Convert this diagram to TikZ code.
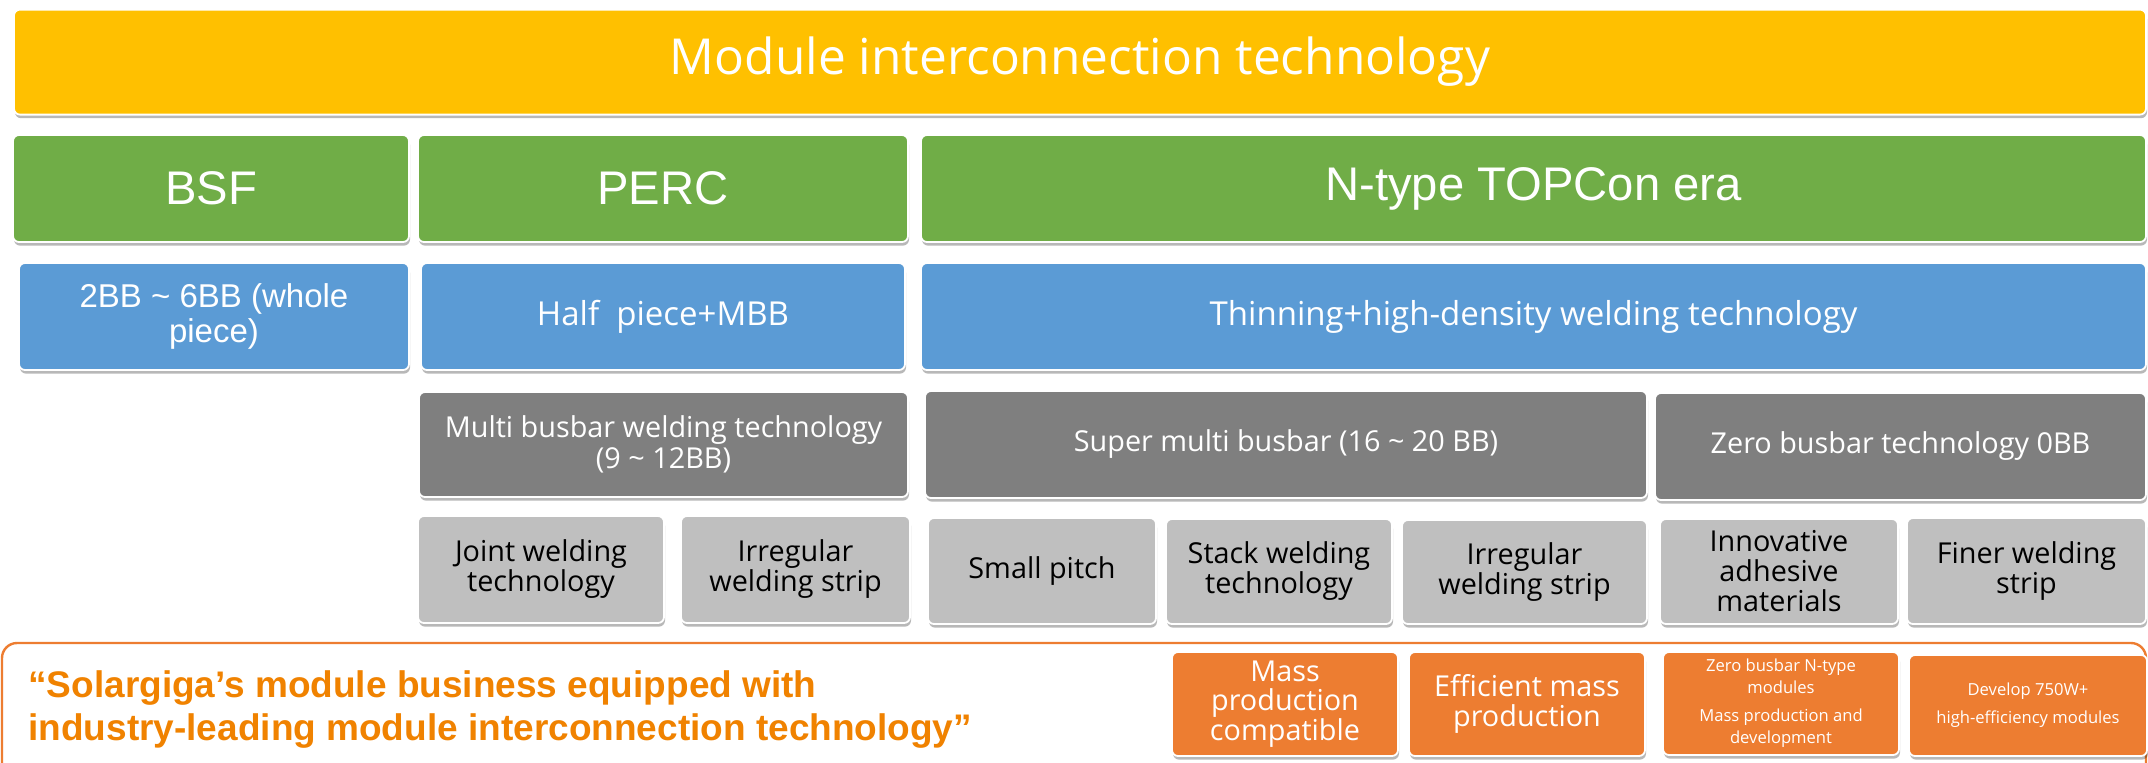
\documentclass[tikz,border=0pt]{standalone}
\usepackage{fontspec}
\setmainfont{Open Sans}
\newfontfamily\arialfont{Liberation Sans}
\usetikzlibrary{shadows}

\definecolor{hdyellow}{HTML}{FFC000}
\definecolor{eragreen}{HTML}{70AD47}
\definecolor{techblue}{HTML}{5B9BD5}
\definecolor{bardark}{HTML}{7F7F7F}
\definecolor{barlight}{HTML}{BFBFBF}
\definecolor{resorange}{HTML}{ED7D31}
\definecolor{quoteorange}{RGB}{240,130,0}

\tikzset{
  tile/.style={rounded corners=3pt, draw=white, line width=0.9pt, inner sep=0pt,
    align=center,
    drop shadow={shadow xshift=0.5pt, shadow yshift=-1.8pt, opacity=0.28, fill=black}},
  headbox/.style={tile, fill=hdyellow, text=white, font=\fontsize{24.8}{30}\selectfont},
  erabox/.style={tile, fill=eragreen, text=white, font=\arialfont\fontsize{23.6}{28}\selectfont},
  techbox/.style={tile, fill=techblue, text=white, font=\fontsize{16.5}{17.5}\selectfont},
  techboxarial/.style={tile, fill=techblue, text=white, font=\arialfont\fontsize{16.5}{17.5}\selectfont},
  busbox/.style={tile, fill=bardark, text=white, font=\fontsize{14.4}{15.5}\selectfont},
  methodbox/.style={tile, fill=barlight, text=black, font=\fontsize{14.4}{15}\selectfont},
  resultbox/.style={tile, fill=resorange, text=white, font=\fontsize{14.4}{14.6}\selectfont},
  resultsmall/.style={tile, fill=resorange, text=white, font=\fontsize{8.3}{11}\selectfont},
  frame/.style={draw=resorange, line width=1.2pt, rounded corners=7.5pt, fill=white},
  quote/.style={text=quoteorange, align=left, inner sep=0pt,
    font=\arialfont\bfseries\fontsize{18.5}{21.5}\selectfont},
}

% one rounded tile spanning the corners (x1,y1) and (x2,y2); one unit is 0.5pt
\newcommand\cellbox[7]{%
  \pgfmathsetmacro\cellcx{(#3+#5)/2}%
  \pgfmathsetmacro\cellcy{(#4+#6)/2}%
  \pgfmathsetmacro\cellw{(#5-#3)*0.5}%
  \pgfmathsetmacro\cellh{(#6-#4)*0.5}%
  \node[#2, minimum width=\cellw pt, minimum height=\cellh pt] (#1) at (\cellcx,\cellcy) {#7};}

\begin{document}
\begin{tikzpicture}[x=0.5pt, y=-0.5pt]
\useasboundingbox (0,0) rectangle (2148,762);
\clip (0,0) rectangle (2148,762);

% heading
\cellbox{head}{headbox, yshift=-1.3pt}{14}{7}{2146}{112}{Module interconnection technology}

% cell generations
\cellbox{bsf}{erabox}{13}{135}{409}{242}{BSF}
\cellbox{perc}{erabox}{418}{135}{908}{242}{PERC}
\cellbox{topcon}{erabox}{921}{135}{2146}{242}{N-type TOPCon era}

% interconnection approach of each generation
\cellbox{whole}{techboxarial}{19}{263}{409}{370}{2BB \textasciitilde{} 6BB (whole\\piece)}
\cellbox{half}{techbox}{421}{263}{905}{370}{Half~~piece+MBB}
\cellbox{thin}{techbox}{921}{263}{2146}{370}{Thinning+high-density welding technology}

% busbar families
\cellbox{mbb}{busbox}{419}{392}{908}{497}{Multi busbar welding technology\\(9 \textasciitilde{} 12BB)}
\cellbox{smbb}{busbox}{925}{391}{1647}{498}{Super multi busbar (16 \textasciitilde{} 20 BB)}
\cellbox{zbb}{busbox}{1655}{393}{2146}{500}{Zero busbar technology 0BB}

% welding methods
\cellbox{joint}{methodbox}{418}{516}{664}{623}{Joint welding\\technology}
\cellbox{irrA}{methodbox}{681}{516}{910}{623}{Irregular\\welding strip}
\cellbox{pitch}{methodbox}{928}{518}{1156}{624}{Small pitch}
\cellbox{stack}{methodbox}{1166}{519}{1392}{624}{Stack welding\\technology}
\cellbox{irrB}{methodbox}{1402}{520}{1647}{624}{Irregular\\welding strip}
\cellbox{adhesive}{methodbox}{1660}{519}{1898}{624}{Innovative\\adhesive\\materials}
\cellbox{finer}{methodbox}{1907}{518}{2146}{624}{Finer welding\\strip}

% company results panel
\draw[frame] (2,643) rectangle (2146,800);
\node[quote, anchor=base west] (slogan) at (28,740)
  {“Solargiga’s module business equipped with\\industry-leading module interconnection technology”};

\cellbox{compat}{resultbox}{1172}{652}{1398}{756}{Mass\\production\\compatible}
\cellbox{massprod}{resultbox}{1409}{652}{1645}{756}{Efficient mass\\production}
\cellbox{zeromod}{resultsmall}{1663}{652}{1899}{755}{Zero busbar N-type\\modules\\[3pt]Mass production and\\development}
\cellbox{develop}{resultsmall}{1909}{655}{2147}{756}{Develop 750W+\\[3pt]high-efficiency modules}
\end{tikzpicture}
\end{document}
